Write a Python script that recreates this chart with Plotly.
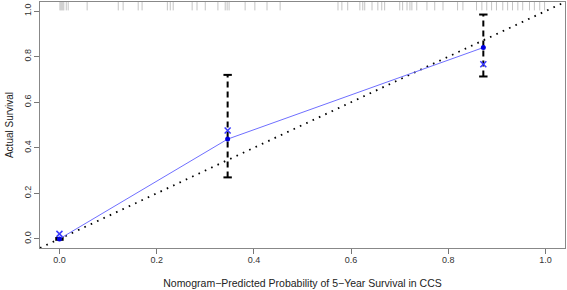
import plotly.graph_objects as go

# Calibration data
pred = [0.0, 0.346, 0.872]            # nomogram-predicted probability
observed = [0.0, 0.438, 0.840]        # apparent (blue dots / line)
bias_corrected = [0.022, 0.476, 0.767]  # "x" markers
ci_low = [-0.004, 0.27, 0.713]
ci_high = [0.004, 0.72, 0.985]

# rug of predicted values (top)
rug_x = [0.001, 0.003, 0.005, 0.007, 0.009, 0.014, 0.018, 0.057, 0.121, 0.131,
         0.162, 0.170, 0.222, 0.228, 0.234, 0.273, 0.283, 0.300, 0.326, 0.341,
         0.345, 0.349, 0.382, 0.402, 0.427, 0.454, 0.573, 0.581, 0.593, 0.618,
         0.624, 0.628, 0.643, 0.655, 0.663, 0.669, 0.700, 0.706, 0.715, 0.721,
         0.725, 0.735, 0.756, 0.772, 0.789, 0.819, 0.830, 0.858, 0.869, 0.879,
         0.889, 0.899, 0.912, 0.922, 0.932, 0.943, 0.953, 0.967, 0.977, 0.988, 0.998]

ideal = [-0.04, 1.04]
x_ticks = [0.0, 0.2, 0.4, 0.6, 0.8, 1.0]
y_ticks = [0.0, 0.2, 0.4, 0.6, 0.8, 1.0]
x_range = [-0.04, 1.04]
y_range = [-0.04, 1.04]

fig = go.Figure()

# ideal line
fig.add_trace(go.Scatter(x=ideal, y=ideal, mode="lines",
                         line=dict(color="black", width=1.8, dash="1.6px,5.4px"),
                         hoverinfo="skip"))

# error bars
eb_x, eb_y = [], []
for xv, lo, hi in zip(pred, ci_low, ci_high):
    eb_x += [xv, xv, None]
    eb_y += [lo, hi, None]
fig.add_trace(go.Scatter(x=eb_x, y=eb_y, mode="lines",
                         line=dict(color="black", width=2, dash="6px,4px")))
fig.add_trace(go.Scatter(x=pred + pred, y=ci_low + ci_high, mode="markers",
                         marker=dict(symbol="line-ew", size=6,
                                     line=dict(color="black", width=2))))

# apparent calibration line
fig.add_trace(go.Scatter(x=pred, y=observed, mode="lines",
                         line=dict(color="#6f6fff", width=1)))
fig.add_trace(go.Scatter(x=pred, y=observed, mode="markers",
                         marker=dict(color="#0000e0", size=5)))
# bias-corrected
fig.add_trace(go.Scatter(x=pred, y=bias_corrected, mode="markers",
                         marker=dict(symbol="x-thin", size=6,
                                     line=dict(color="#3a3aff", width=1.5))))

# rug
fig.add_trace(go.Scatter(x=rug_x, y=[y_range[1]] * len(rug_x), mode="markers",
                         cliponaxis=True,
                         marker=dict(symbol="line-ns", size=12,
                                     line=dict(color="#c4c4c4", width=1))))

font_family = "Liberation Sans, Arial, sans-serif"
fig.update_layout(
    width=567, height=290,
    margin=dict(l=40, r=2, t=2, b=42),
    paper_bgcolor="white", plot_bgcolor="white",
    showlegend=False,
    font=dict(family=font_family, size=9, color="#222"),
    xaxis=dict(range=x_range, tickvals=x_ticks, ticktext=[f"{v:.1f}" for v in x_ticks],
               ticks="outside", ticklen=5, tickcolor="#777", showgrid=False,
               zeroline=False, showline=True, linecolor="#888", linewidth=1, mirror=True,
               tickfont=dict(size=9, color="#333"), automargin=False, ticklabelstandoff=-2,
               title=dict(text="Nomogram\u2212Predicted Probability of 5\u2212Year Survival in CCS",
                          font=dict(size=10.5, color="#222"), standoff=15)),
    yaxis=dict(range=y_range, tickvals=y_ticks, ticktext=[f"{v:.1f}" for v in y_ticks],
               ticks="outside", ticklen=5, tickcolor="#777", showgrid=False,
               zeroline=False, showline=True, linecolor="#888", linewidth=1, mirror=True,
               tickangle=-90, tickfont=dict(size=9, color="#333"), automargin=False,
               ticklabelstandoff=-1,
               title=dict(text="Actual Survival", font=dict(size=10, color="#222"),
                          standoff=7)),
)

fig.write_html("out.html", config={"displayModeBar": False},
               post_script="document.body.style.margin='0';document.body.style.overflow='hidden';")
